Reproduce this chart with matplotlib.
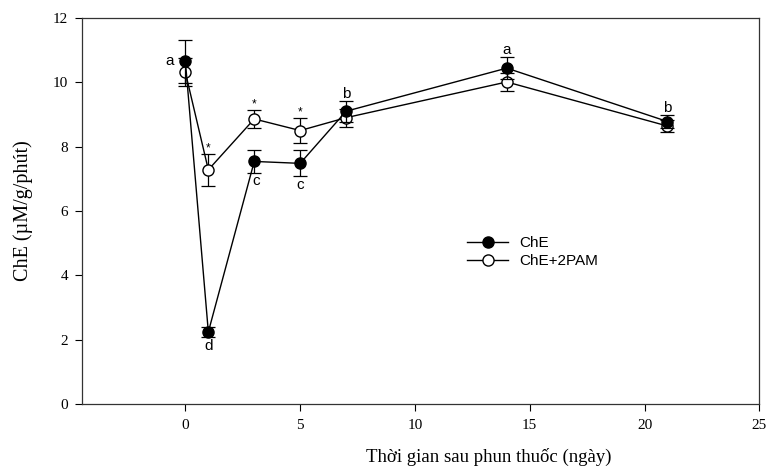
import matplotlib.pyplot as plt
from matplotlib.lines import Line2D

days = [0, 1, 3, 5, 7, 14, 21]
che = [10.65, 2.24, 7.54, 7.48, 9.1, 10.44, 8.78]
che_err = [0.67, 0.16, 0.36, 0.4, 0.33, 0.35, 0.2]
che_pam = [10.31, 7.28, 8.86, 8.5, 8.9, 10.01, 8.64]
che_pam_err = [0.44, 0.49, 0.29, 0.39, 0.28, 0.29, 0.18]

# significance letters for ChE, stars for ChE+2PAM
che_letters = ["a", "d", "c", "c", "b", "a", "b"]
pam_stars = ["", "*", "*", "*", "", "", ""]

serif = "Liberation Serif"
sans = "Liberation Sans"

fig = plt.figure(figsize=(7.67, 4.72), dpi=100)
ax = fig.add_axes([0.107, 0.144, 0.883, 0.818])

ax.errorbar(days, che_pam, yerr=che_pam_err, color="black", marker="o",
            markerfacecolor="white", markeredgecolor="black", markersize=8,
            linewidth=1, elinewidth=0.9, capsize=5, capthick=0.9, zorder=3)
ax.errorbar(days, che, yerr=che_err, color="black", marker="o",
            markerfacecolor="black", markersize=8,
            linewidth=1, elinewidth=0.9, capsize=5, capthick=0.9, zorder=4)

for x, y, e, lab in zip(days, che, che_err, che_letters):
    if x == 0:
        ax.annotate(lab, (x, y), xytext=(-11, 0), textcoords="offset points",
                    ha="center", va="center", fontsize=11, family=sans)
    elif x == 3:
        ax.annotate(lab, (x, y - e), xytext=(1.5, -1), textcoords="offset points",
                    ha="center", va="top", fontsize=11, family=sans)
    elif y < 8:
        ax.annotate(lab, (x, y - e), xytext=(0, -1.5), textcoords="offset points",
                    ha="center", va="top", fontsize=11, family=sans)
    else:
        ax.annotate(lab, (x, y + e), xytext=(0, 0), textcoords="offset points",
                    ha="center", va="bottom", fontsize=11, family=sans)

for x, y, e, s in zip(days, che_pam, che_pam_err, pam_stars):
    if s:
        ax.annotate(s, (x, y + e), xytext=(0, -0.5), textcoords="offset points",
                    ha="center", va="bottom", fontsize=8.5, family=sans)

ax.set_xlim(-4.5, 25)
ax.set_ylim(0, 12)
ax.set_xticks([0, 5, 10, 15, 20, 25])
ax.set_yticks([0, 2, 4, 6, 8, 10, 12])
for spine in ax.spines.values():
    spine.set_linewidth(0.9)
    spine.set_color("#333333")
ax.tick_params(direction="out", length=5, width=0.8, labelsize=11, pad=5)
ax.tick_params(axis="x", pad=6)
for t in ax.get_xticklabels() + ax.get_yticklabels():
    t.set_family(serif)

ax.set_xlabel("Thời gian sau phun thuốc (ngày)", family=serif, fontsize=13.5)
ax.xaxis.set_label_coords(0.6, -0.115)
ax.set_ylabel("ChE (µM/g/phút)", family=serif, fontsize=14.5, labelpad=14)

handles = [
    Line2D([], [], color="black", linewidth=1, marker="o",
           markerfacecolor="black", markersize=8),
    Line2D([], [], color="black", linewidth=1, marker="o",
           markerfacecolor="white", markeredgecolor="black", markersize=8),
]
ax.legend(handles, ["ChE", "ChE+2PAM"], loc="upper left",
          bbox_to_anchor=(0.548, 0.47), frameon=False, handlelength=2.7,
          prop={"family": sans, "size": 11}, labelspacing=0.25,
          handletextpad=0.7)

fig.savefig("out.png", dpi=100)
